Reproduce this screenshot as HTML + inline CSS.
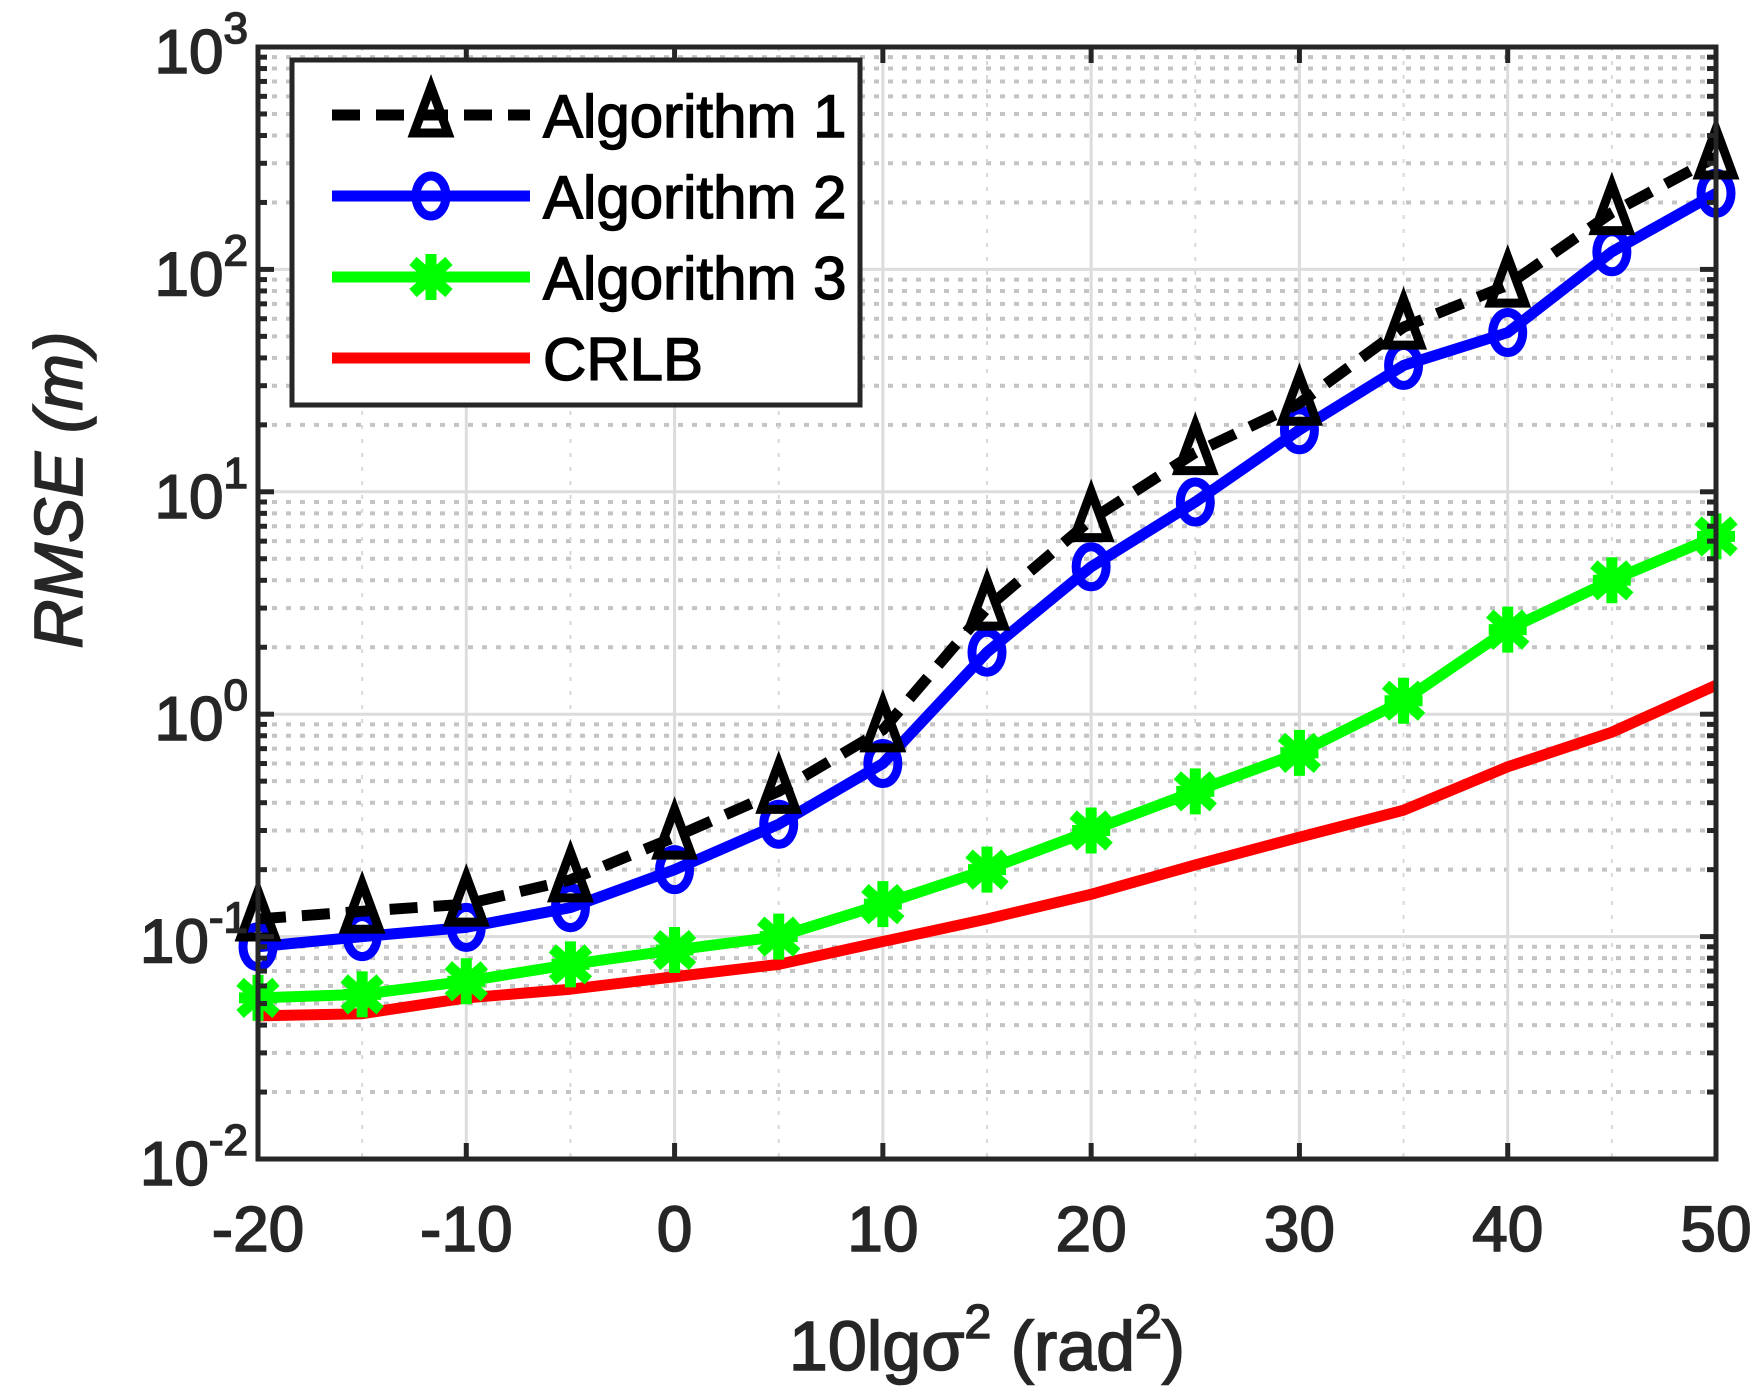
<!DOCTYPE html>
<html><head><meta charset="utf-8"><style>
html,body{margin:0;padding:0;background:#fff;}
svg{display:block;font-family:"Liberation Sans",sans-serif;}
</style></head><body>
<svg id="chart" width="1764" height="1400" viewBox="0 0 1764 1400" xmlns="http://www.w3.org/2000/svg">
<rect width="1764" height="1400" fill="#fff"/>
<g id="grid"></g>
<g id="series"></g>
<g id="axes"></g>
<g id="legend"></g>
</svg>
<script>
const xValues = [-20,-15,-10,-5,0,5,10,15,20,25,30,35,40,45,50];
const alg1 = [0.12,0.13,0.14,0.18,0.28,0.45,0.85,3.0,7.5,15,25,55,85,180,320];
const alg2 = [0.09,0.10,0.11,0.135,0.2,0.32,0.6,1.9,4.6,9,19,37,52,120,220];
const alg3 = [0.053,0.055,0.063,0.075,0.087,0.1,0.14,0.2,0.3,0.45,0.67,1.15,2.4,4,6.3];
const crlb = [0.044,0.045,0.053,0.058,0.066,0.075,0.095,0.12,0.155,0.21,0.28,0.37,0.58,0.83,1.35];
const xTicks = [-20,-10,0,10,20,30,40,50];
const yDecades = [-2,-1,0,1,2,3];
const legendLabels = ["Algorithm 1","Algorithm 2","Algorithm 3","CRLB"];

const L=258,R=1716,T=47,B=1159;
const xMin=-20,xMax=50,yMin=-2,yMax=3;
const NS="http://www.w3.org/2000/svg";
function sx(v){return L+(v-xMin)/(xMax-xMin)*(R-L);}
function sy(v){return B-(Math.log10(v)-yMin)/(yMax-yMin)*(B-T);}
function mk(tag,attrs,parent){const e=document.createElementNS(NS,tag);for(const k in attrs)e.setAttribute(k,attrs[k]);parent.appendChild(e);return e;}
const grid=document.getElementById('grid'),axes=document.getElementById('axes'),ser=document.getElementById('series'),leg=document.getElementById('legend');
const TXT={fill:'#262626',stroke:'#262626','stroke-width':1.6};

for(let d=yMin;d<yMax;d++){for(let m=2;m<=9;m++){const y=sy(m*Math.pow(10,d));
 const g=mk('line',{x1:L,x2:R,y1:y,y2:y,stroke:'#c4c4c4','stroke-width':4,'stroke-dasharray':'5 9'},grid);
 
 }}
for(let x=xMin;x<=xMax;x+=5){if(x%10===0)continue;const X=sx(x);
 const g=mk('line',{x1:X,x2:X,y1:T,y2:B,stroke:'#d8d8d8','stroke-width':2,'stroke-dasharray':'4 10'},grid);
 
 }
yDecades.forEach(d=>{const y=sy(Math.pow(10,d));
 const g=mk('line',{x1:L,x2:R,y1:y,y2:y,stroke:'#dcdcdc','stroke-width':3},grid);
 
 });
xTicks.forEach(v=>{const X=sx(v);
 const g=mk('line',{x1:X,x2:X,y1:T,y2:B,stroke:'#dcdcdc','stroke-width':3},grid);
 
 });

function path(vals){return xValues.map((x,i)=>(i?'L':'M')+sx(x)+' '+sy(vals[i])).join(' ');}
function drawSeries(vals,color,dash,name,marker){
 const g=mk('g',{},ser);
 
 
 const p=mk('path',{d:path(vals),fill:'none',stroke:color,'stroke-width':11,'stroke-linejoin':'round'},g);
 if(dash)p.setAttribute('stroke-dasharray',dash);
 
 
 if(marker)xValues.forEach((x,i)=>{const m=marker(g,sx(x),sy(vals[i]));
  
  });
}
function tri(g,x,y){return mk('path',{d:`M${x} ${y-28} L${x+17} ${y+18} L${x-17} ${y+18} Z`,fill:'none',stroke:'#000','stroke-width':9,'stroke-linejoin':'miter'},g);}
function circ(g,x,y){return mk('ellipse',{cx:x,cy:y,rx:15,ry:20,fill:'none',stroke:'#0000ff','stroke-width':9},g);}
function star(g,x,y){const s=mk('g',{stroke:'#00ff00','stroke-width':11},g);
 mk('line',{x1:x,y1:y-23,x2:x,y2:y+23},s);mk('line',{x1:x-18,y1:y-16,x2:x+18,y2:y+16},s);mk('line',{x1:x-18,y1:y+16,x2:x+18,y2:y-16},s);mk('line',{x1:x-19,y1:y,x2:x+19,y2:y},s);return s;}
drawSeries(crlb,'#ff0000',null,'crlb-series',null);
drawSeries(alg3,'#00ff00',null,'algorithm-3-series',star);
drawSeries(alg2,'#0000ff',null,'algorithm-2-series',circ);
drawSeries(alg1,'#000000','28 16','algorithm-1-series',tri);

const box=mk('rect',{x:L,y:T,width:R-L,height:B-T,fill:'none',stroke:'#262626','stroke-width':5},axes);


xTicks.forEach(v=>{const X=sx(v);
 mk('line',{x1:X,x2:X,y1:B,y2:B-16,stroke:'#262626','stroke-width':5},axes);
 mk('line',{x1:X,x2:X,y1:T,y2:T+16,stroke:'#262626','stroke-width':5},axes);
 const t=mk('text',Object.assign({x:X,y:B+92,'text-anchor':'middle','font-size':64},TXT),axes);
 t.textContent=String(v);
 
 });
for(let d=yMin;d<yMax;d++){for(let m=1;m<=9;m++){const y=sy(m*Math.pow(10,d));const len=m===1?16:9;
 mk('line',{x1:L,x2:L+len,y1:y,y2:y,stroke:'#262626','stroke-width':5},axes);
 mk('line',{x1:R,x2:R-len,y1:y,y2:y,stroke:'#262626','stroke-width':5},axes);}}
yDecades.forEach(d=>{const y=sy(Math.pow(10,d));
 const t=mk('text',Object.assign({x:L-10,y:y+26,'text-anchor':'end','font-size':62},TXT),axes);
 t.innerHTML='10<tspan dy="-30" font-size="44">'+d+'</tspan>';
 
 });
const xl=mk('text',Object.assign({x:(L+R)/2,y:1370,'text-anchor':'middle','font-size':70},TXT),axes);
xl.innerHTML='10lgσ<tspan dy="-32" font-size="48">2</tspan><tspan dy="32"> (rad</tspan><tspan dy="-32" font-size="48">2</tspan><tspan dy="32">)</tspan>';


const yl=mk('text',Object.assign({x:0,y:0,'text-anchor':'middle','font-size':68,'font-style':'italic',transform:'translate(82,490) rotate(-90)'},TXT),axes);
yl.textContent='RMSE (m)';



const lb=mk('rect',{x:292,y:60,width:568,height:345,fill:'#fff',stroke:'#262626','stroke-width':5},leg);


const cols=['#000000','#0000ff','#00ff00','#ff0000'],marks=[tri,circ,star,null],dashes=['28 16',null,null,null];
legendLabels.forEach((lab,i)=>{const y=115+i*81;
 const g=mk('g',{},leg);
 
 
 const ln=mk('line',{x1:332,x2:530,y1:y,y2:y,stroke:cols[i],'stroke-width':11},g);
 if(dashes[i])ln.setAttribute('stroke-dasharray',dashes[i]);
 if(marks[i])marks[i](g,431,y);
 const t=mk('text',{x:543,y:y+22,'font-size':60,fill:'#000',stroke:'#000','stroke-width':1.4},g);
 t.textContent=lab;});
</script>
</body></html>
